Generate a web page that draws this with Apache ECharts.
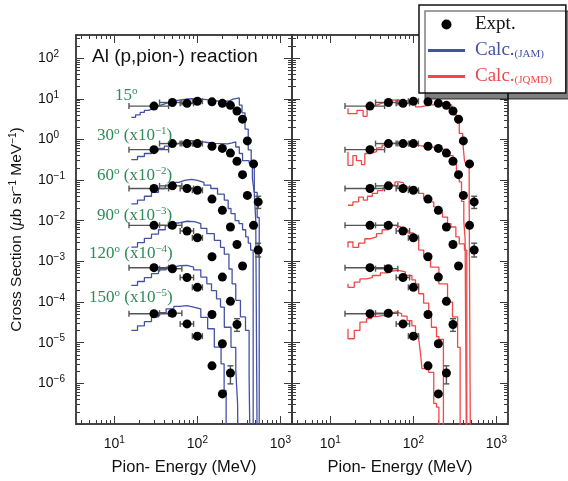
<!DOCTYPE html>
<html>
<head>
<meta charset="utf-8">
<script src="https://cdn.jsdelivr.net/npm/echarts@6/dist/echarts.min.js"></script>
<style>
html, body { margin: 0; padding: 0; background: #fff; }
#chart { width: 568px; height: 481px; }
</style>
</head>
<body>
<div id="chart"></div>
<script>
// 实验点 (MeV, ub/sr/MeV, 已乘角度因子)
var energies = [30, 50, 75, 100, 150, 200, 250, 300, 350, 400, 475, 540];
var expt15  = [6.6, 8.1, 7.7, 8.7, 8.4, 7.7, 6.9, 5.0, 3.15, 0.92, 0.25, 0.029];
var expt30  = [0.56, 0.79, 0.79, 0.79, 0.68, 0.60, 0.46, 0.29, 0.136, 0.042, 0.0077, 0.0019];
var expt60  = [0.062, 0.072, 0.062, 0.056, 0.034, 0.018, 0.0070, 0.0026, 0.00077];
var expt90  = [0.0077, 0.0077, 0.0056, 0.0038, 0.0013, 0.00041, 1.04e-4, 2.8e-5];
var expt120 = [7.0e-4, 6.6e-4, 4.0e-4, 2.3e-4, 4.95e-5, 9.4e-6, 1.8e-6];
var expt150 = [5.15e-5, 5.3e-5, 2.9e-5, 1.45e-5, 2.7e-6, 5.5e-7];
// 能量 bin 的范围 (前四个点)
var binLow  = [15, 35, 62, 87];
var binHigh = [45, 65, 90, 115];
// 竖直误差 [E, 下, 上]
var yErrors = [[540, 0.020, 0.040], [540, 0.00128, 0.0028], [300, 1.9e-5, 3.9e-5], [250, 9.7e-7, 2.7e-6]];

// JAM 计算 (直方图 [bin 左边, 值])
var jam15 = [[16, 3.5], [18, 4.0], [20.5, 4.6], [23, 5.2], [26, 5.8], [29.5, 6.5], [33, 7.2], [38, 7.9], [44, 8.6], [51, 9.2], [60, 9.7], [70, 10.0], [85, 9.9], [100, 9.6], [120, 9.2], [145, 8.8], [175, 8.6], [210, 8.8], [240, 9.8], [270, 10.5], [320, 7.0], [345, 4.5], [375, 1.8], [410, 0.55], [445, 0.22], [485, 0.05], [525, 0.012], [556, 1e-9]];
var jam30 = [[16, 0.32], [19, 0.38], [23, 0.45], [28, 0.52], [33.5, 0.6], [40, 0.68], [48, 0.78], [57, 0.86], [67, 0.93], [80, 0.92], [92, 0.88], [110, 0.84], [133, 0.8], [160, 0.79], [193, 0.78], [232, 0.82], [262, 0.87], [290, 0.65], [320, 0.45], [350, 0.3], [420, 0.26], [460, 0.11], [484, 0.05], [505, 0.01], [530, 1e-9]];
var jam60 = [[16, 0.026], [19, 0.032], [23, 0.04], [28, 0.05], [34, 0.062], [41, 0.075], [50, 0.088], [60, 0.098], [70, 0.104], [85, 0.098], [100, 0.088], [120, 0.075], [145, 0.062], [175, 0.045], [211, 0.032], [235, 0.02], [254, 0.015], [285, 0.01], [317, 0.0085], [350, 0.006], [382, 0.004], [410, 0.0028], [438, 0.0019], [470, 1e-9]];
var jam90 = [[16, 0.00225], [19, 0.0029], [23, 0.0037], [28, 0.0047], [34, 0.006], [41, 0.0075], [50, 0.0088], [60, 0.0097], [75, 0.0095], [92, 0.0085], [110, 0.0065], [130, 0.0048], [160, 0.0033], [190, 0.0022], [211, 0.0015], [240, 0.00065], [262, 0.00028], [290, 0.00011], [330, 4.3e-5], [380, 2e-5], [420, 1.4e-6], [440, 1e-9]];
var jam120 = [[16, 2.56e-4], [19, 3.2e-4], [23, 4e-4], [28, 5e-4], [34, 6.2e-4], [42, 7.2e-4], [52, 7.9e-4], [62, 8.0e-4], [75, 7.2e-4], [90, 6.2e-4], [110, 4.1e-4], [130, 2.8e-4], [148, 1.9e-4], [170, 1.2e-4], [190, 7.5e-5], [211, 2.4e-5], [254, 7.7e-6], [290, 2.1e-6], [305, 3.2e-7], [315, 1e-9]];
var jam150 = [[16, 2e-5], [19, 2.6e-5], [23, 3.3e-5], [28, 4.3e-5], [34, 5.5e-5], [42, 6.8e-5], [52, 7.8e-5], [62, 8.2e-5], [75, 7.5e-5], [90, 6.8e-5], [110, 4.2e-5], [133, 2.2e-5], [160, 7.8e-6], [193, 3e-6], [210, 6.7e-7], [222, 1e-9]];

// JQMD 计算
var jqmd15 = [[16.3, 5.8], [16.3, 4.3], [20.9, 5.2], [24.8, 3.7], [27.7, 6.5], [31, 7.0], [36, 7.8], [42, 8.6], [48, 9.2], [55, 9.4], [65, 9.0], [80, 8.8], [95, 9.2], [106, 6.3], [122, 6.9], [150, 7.2], [180, 7.4], [220, 7.6], [258, 7.0], [290, 5.3], [309, 4.0], [335, 2.5], [357, 1.4], [392, 0.95], [412, 0.31], [431, 0.23], [470, 0.032], [490, 1e-9]];
var jqmd30 = [[16.3, 0.5], [16.3, 0.23], [18.7, 0.4], [20.6, 0.3], [23.7, 0.24], [26, 0.45], [30, 0.5], [36, 0.62], [42, 0.72], [48, 0.8], [55, 0.82], [65, 0.78], [80, 0.74], [100, 0.7], [120, 0.66], [150, 0.64], [180, 0.6], [210, 0.56], [240, 0.5], [270, 0.4], [300, 0.27], [330, 0.16], [357, 0.09], [380, 0.03], [405, 0.01], [420, 0.0035], [440, 1e-9]];
var jqmd60 = [[16.3, 0.024], [18.7, 0.029], [21.9, 0.038], [25, 0.032], [28, 0.04], [32, 0.047], [37, 0.055], [43, 0.065], [51, 0.075], [60, 0.09], [67.6, 0.085], [76, 0.068], [88, 0.062], [101, 0.056], [116, 0.047], [133, 0.035], [153, 0.029], [176, 0.022], [195, 0.0164], [224, 0.0123], [258, 0.0085], [283, 0.007], [325, 0.004], [357, 0.0027], [412, 0.0019], [440, 1e-9]];
var jqmd90 = [[16.3, 0.0022], [16.3, 0.003], [18.7, 0.0022], [21.9, 0.0028], [26, 0.0036], [30, 0.004], [36, 0.0048], [42, 0.006], [50, 0.0077], [60, 0.0072], [70, 0.0062], [85, 0.005], [100, 0.0041], [116, 0.0019], [133, 0.00128], [161, 7.2e-4], [203, 2.8e-4], [258, 1e-4], [296, 4.3e-5], [341, 7.7e-6], [366, 1e-9]];
var jqmd120 = [[16.3, 2.8e-4], [16.3, 2.3e-4], [19.4, 3.1e-4], [22.7, 3.7e-4], [27, 4.0e-4], [32, 4.5e-4], [40, 5.2e-4], [48, 5.8e-4], [56, 6.0e-4], [66, 5.5e-4], [80, 4.5e-4], [96, 3.5e-4], [106, 2.8e-4], [116, 1.6e-4], [133, 9.4e-5], [153, 5.1e-5], [165, 2.4e-5], [190, 1.4e-5], [203, 1.2e-5], [230, 1e-9]];
var jqmd150 = [[16.3, 2.2e-5], [16.3, 1.25e-5], [19.4, 2e-5], [22.7, 3.2e-5], [27.3, 3.9e-5], [31.3, 4.4e-5], [36, 4.7e-5], [44, 5.2e-5], [52, 5.7e-5], [62, 5.2e-5], [72, 4.5e-5], [84, 3.5e-5], [96, 2.6e-5], [106, 1.65e-5], [116, 1.2e-5], [122, 5.4e-6], [127, 2.3e-6], [153, 1.87e-6], [176, 3.2e-7], [190, 2.6e-7], [203, 1e-9]];

// 坐标轴刻度
var xMajor = [10, 100, 1000];
var yMajor = [1e-6, 1e-5, 1e-4, 1e-3, 1e-2, 1e-1, 1, 10, 100];
var angleLabels = ['15', '30', '60', '90', '120', '150'];
var factorExp = [0, -1, -2, -3, -4, -5];

var xMin = 3.45, xMax = 1380, yMin = 1e-7, yMax = 370;
var axisColor = '#3a3a3a';
var jamColor = '#4452a6', jqmdColor = '#f04848', greenColor = '#2e8b57';

function minorTicks(lo, hi) {
  var out = [];
  for (var k = -8; k <= 3; k++) {
    for (var m = 2; m <= 9; m++) {
      var v = m * Math.pow(10, k);
      if (v > lo && v < hi) out.push(v);
    }
  }
  return out;
}
function majorTicks(lo, hi) {
  var out = [];
  for (var k = -8; k <= 3; k++) {
    var v = Math.pow(10, k);
    if (v >= lo && v <= hi) out.push(v);
  }
  return out;
}
function supLabel(v) {
  var e = Math.round(Math.log(v) / Math.LN10);
  return '{b|10}{s|' + (e < 0 ? '\u2212' + (-e) : e) + '}';
}
var labelRich = {
  b: {fontFamily: 'Liberation Sans', fontSize: 14, color: '#111'},
  s: {fontFamily: 'Liberation Sans', fontSize: 10, color: '#111', padding: [0, 0, 8, 0]}
};

function xAxisCfg(grid, pos, major, withLabel) {
  var cfg = {
    type: 'log', logBase: 10, gridIndex: grid, position: pos, min: xMin, max: xMax,
    axisLine: {show: true, onZero: false, lineStyle: {color: axisColor, width: 1.5}},
    axisTick: {show: true, inside: true, length: major ? 8 : 4, customValues: major ? majorTicks(xMin, xMax) : minorTicks(xMin, xMax), lineStyle: {color: axisColor, width: 1}},
    axisLabel: {show: false},
    splitLine: {show: false}
  };
  if (withLabel) {
    cfg.axisLabel = {show: true, customValues: xMajor, formatter: supLabel, rich: labelRich, margin: 11};
    cfg.name = 'Pion- Energy (MeV)';
    cfg.nameLocation = 'middle';
    cfg.nameGap = 35;
    cfg.nameTextStyle = {fontFamily: 'Liberation Sans', fontSize: 16.5, color: '#111'};
  }
  return cfg;
}
function yAxisCfg(grid, pos, major, withLabel) {
  var cfg = {
    type: 'log', logBase: 10, gridIndex: grid, position: pos, min: yMin, max: yMax,
    axisLine: {show: true, onZero: false, lineStyle: {color: axisColor, width: 1.5}},
    axisTick: {show: true, inside: true, length: major ? 8 : 4, customValues: major ? majorTicks(yMin, yMax) : minorTicks(yMin, yMax), lineStyle: {color: axisColor, width: 1}},
    axisLabel: {show: false},
    splitLine: {show: false}
  };
  if (withLabel) {
    cfg.axisLabel = {show: true, customValues: yMajor, formatter: supLabel, rich: labelRich, margin: 38, align: 'left'};
    cfg.name = '{t|Cross Section (}{i|\u03bc}{t|b sr}{s|\u22121}{t| MeV}{s|\u22121}{t|)}';
    cfg.nameLocation = 'middle';
    cfg.nameGap = 50;
    cfg.nameRotate = 90;
    cfg.nameTextStyle = {
      rich: {
        t: {fontFamily: 'Liberation Sans', fontSize: 15.5, color: '#111'},
        i: {fontFamily: 'Liberation Sans', fontSize: 15.5, fontStyle: 'italic', color: '#111'},
        s: {fontFamily: 'Liberation Sans', fontSize: 10, color: '#111', padding: [0, 0, 8, 0]}
      }
    };
  }
  return cfg;
}

var xAxes = [], yAxes = [];
[0, 1].forEach(function (g) {
  xAxes.push(xAxisCfg(g, 'bottom', true, true));
  xAxes.push(xAxisCfg(g, 'bottom', false, false));
  xAxes.push(xAxisCfg(g, 'top', true, false));
  xAxes.push(xAxisCfg(g, 'top', false, false));
  yAxes.push(yAxisCfg(g, 'left', true, g === 0));
  yAxes.push(yAxisCfg(g, 'left', false, false));
  yAxes.push(yAxisCfg(g, 'right', true, false));
  yAxes.push(yAxisCfg(g, 'right', false, false));
});

var expts = [expt15, expt30, expt60, expt90, expt120, expt150];
var jams = [jam15, jam30, jam60, jam90, jam120, jam150];
var jqmds = [jqmd15, jqmd30, jqmd60, jqmd90, jqmd120, jqmd150];

function renderHErr(params, api) {
  var p0 = api.coord([api.value(0), api.value(2)]);
  var p1 = api.coord([api.value(1), api.value(2)]);
  var st = {stroke: '#555', lineWidth: 1.4};
  return {type: 'group', children: [
    {type: 'line', shape: {x1: p0[0], y1: p0[1], x2: p1[0], y2: p1[1]}, style: st},
    {type: 'line', shape: {x1: p0[0], y1: p0[1] - 3, x2: p0[0], y2: p0[1] + 3}, style: st},
    {type: 'line', shape: {x1: p1[0], y1: p1[1] - 3, x2: p1[0], y2: p1[1] + 3}, style: st}
  ]};
}
function renderVErr(params, api) {
  var p0 = api.coord([api.value(0), api.value(1)]);
  var p1 = api.coord([api.value(0), api.value(2)]);
  var st = {stroke: '#555', lineWidth: 1.4};
  return {type: 'group', children: [
    {type: 'line', shape: {x1: p0[0], y1: p0[1], x2: p1[0], y2: p1[1]}, style: st},
    {type: 'line', shape: {x1: p0[0] - 3, y1: p0[1], x2: p0[0] + 3, y2: p0[1]}, style: st},
    {type: 'line', shape: {x1: p1[0] - 3, y1: p1[1], x2: p1[0] + 3, y2: p1[1]}, style: st}
  ]};
}

var series = [];
[0, 1].forEach(function (g) {
  var xi = g * 4, yi = g * 4;
  var hData = [];
  expts.forEach(function (arr) {
    for (var i = 0; i < binLow.length; i++) hData.push([binLow[i], binHigh[i], arr[i]]);
  });
  series.push({type: 'custom', xAxisIndex: xi, yAxisIndex: yi, renderItem: renderHErr, data: hData, encode: {x: [0, 1], y: 2}, z: 3, silent: true});
  series.push({type: 'custom', xAxisIndex: xi, yAxisIndex: yi, renderItem: renderVErr, data: yErrors, encode: {x: 0, y: [1, 2]}, z: 3, silent: true});
  var calcs = g === 0 ? jams : jqmds;
  calcs.forEach(function (c) {
    series.push({
      name: g === 0 ? 'Calc.(JAM)' : 'Calc.(JQMD)', type: 'line', step: 'end', xAxisIndex: xi, yAxisIndex: yi,
      data: c, symbol: 'none', clip: true, z: 2,
      lineStyle: {color: g === 0 ? jamColor : jqmdColor, width: 1.3},
      itemStyle: {color: g === 0 ? jamColor : jqmdColor}
    });
  });
  expts.forEach(function (arr) {
    series.push({
      name: 'Expt.', type: 'scatter', xAxisIndex: xi, yAxisIndex: yi,
      data: arr.map(function (v, i) { return [energies[i], v]; }),
      symbol: 'circle', symbolSize: 9, itemStyle: {color: '#000', opacity: 1}, z: 4
    });
  });
});

// 角度标注
var graphics = [];
var labelTops = [86, 126, 166, 206, 244, 288];
var labelLefts = [115, 97, 97, 97, 89, 89];
angleLabels.forEach(function (a, i) {
  var txt = '{g|' + a + '}{s|o}';
  if (factorExp[i] !== 0) txt += '{g| (x10}{s|\u2212' + (-factorExp[i]) + '}{g|)}';
  graphics.push({
    type: 'text', left: labelLefts[i], top: labelTops[i], z: 10,
    style: {
      text: txt,
      rich: {
        g: {fontFamily: 'Liberation Serif', fontSize: 17, fill: greenColor},
        s: {fontFamily: 'Liberation Serif', fontSize: 11, fill: greenColor, padding: [0, 0, 9, 0]}
      }
    }
  });
});

var linePath = 'path://M0,0H37V3H0Z';
var chart = echarts.init(document.getElementById('chart'));
chart.setOption({
  animation: false,
  backgroundColor: '#fff',
  title: {
    text: 'Al (p,pion-) reaction', left: 87, top: 42,
    textStyle: {fontFamily: 'Liberation Sans', fontSize: 19, fontWeight: 'normal', color: '#111'}
  },
  grid: [
    {left: 76, top: 35, width: 216, height: 389},
    {left: 292, top: 35, width: 216, height: 389}
  ],
  xAxis: xAxes,
  yAxis: yAxes,
  legend: {
    left: 419, top: 5, orient: 'vertical',
    data: [
      {name: 'Expt.', icon: 'circle'},
      {name: 'Calc.(JAM)', icon: linePath},
      {name: 'Calc.(JQMD)', icon: linePath}
    ],
    itemWidth: 37, itemHeight: 10, itemGap: 7,
    padding: [10, 14, 7, 9],
    backgroundColor: '#fff', borderColor: '#111', borderWidth: 1.5,
    shadowColor: 'rgba(0,0,0,0.5)', shadowOffsetX: 6, shadowOffsetY: 6, shadowBlur: 0,
    itemStyle: {borderWidth: 0},
    selectedMode: false,
    formatter: function (name) {
      if (name === 'Expt.') return '{e|Expt.}';
      if (name === 'Calc.(JAM)') return '{b|Calc.}{bs|(JAM)}';
      return '{r|Calc.}{rs|(JQMD)}';
    },
    textStyle: {
      rich: {
        e: {fontFamily: 'Liberation Serif', fontSize: 19, color: '#111', lineHeight: 20, padding: [0, 0, 0, 5]},
        b: {fontFamily: 'Liberation Serif', fontSize: 19, color: jamColor, lineHeight: 20, padding: [0, 0, 0, 5]},
        bs: {fontFamily: 'Liberation Serif', fontSize: 11, color: jamColor, padding: [7, 0, 0, 0]},
        r: {fontFamily: 'Liberation Serif', fontSize: 19, color: jqmdColor, lineHeight: 20, padding: [0, 0, 0, 5]},
        rs: {fontFamily: 'Liberation Serif', fontSize: 11, color: jqmdColor, padding: [7, 0, 0, 0]}
      }
    }
  },
  graphic: graphics,
  series: series
});
</script>
</body>
</html>
